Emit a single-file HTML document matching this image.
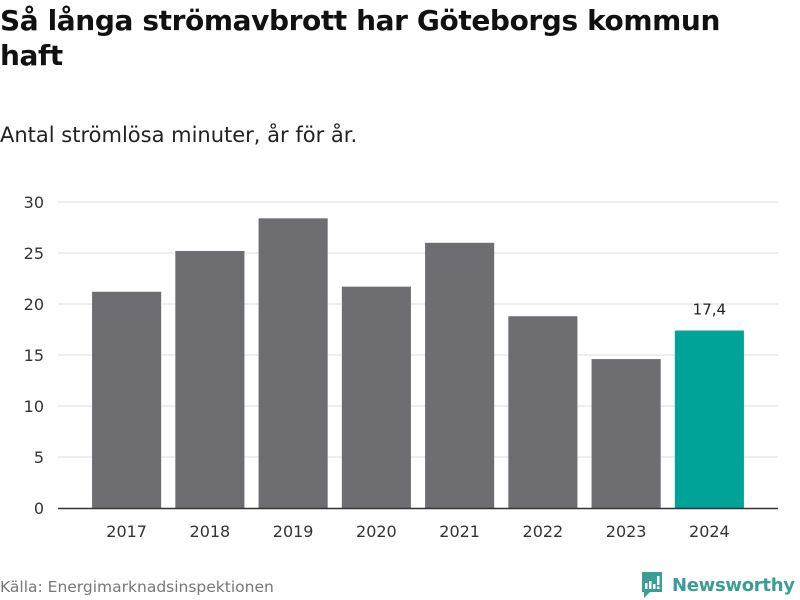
<!DOCTYPE html>
<html><head><meta charset="utf-8">
<style>
body{margin:0;width:800px;height:600px;background:#fff;font-family:"DejaVu Sans","Liberation Sans",sans-serif;overflow:hidden}
h1{position:absolute;left:0;top:3px;margin:0;font-size:28px;line-height:35px;font-weight:bold;color:#111;width:790px;letter-spacing:-0.4px}
.sub{position:absolute;left:0;top:123px;font-size:21px;color:#222}
.src{position:absolute;left:0;top:578px;font-size:15.5px;color:#777}
</style></head><body>
<h1>Så långa strömavbrott har Göteborgs kommun haft</h1>
<div class="sub">Antal strömlösa minuter, år för år.</div>
<svg id="chart" width="800" height="600" style="position:absolute;left:0;top:0"></svg>
<div class="src">Källa: Energimarknadsinspektionen</div>
<div style="position:absolute;left:640px;top:570px;display:flex;align-items:center">
<svg width="24" height="30" viewBox="0 0 24 30"><path d="M2 2h20v20h-12l-6 6v-6h-2z" fill="#3a9e94"/><rect x="5" y="13" width="2.5" height="6" fill="#fff"/><rect x="9" y="11" width="2.5" height="8" fill="#fff"/><rect x="13" y="14" width="2.5" height="5" fill="#fff"/><rect x="17" y="6" width="2.5" height="9" fill="#fff"/><rect x="17" y="16.5" width="2.5" height="2.5" fill="#fff"/></svg>
<span style="font-size:18px;font-weight:bold;color:#3a9e94;margin-left:8px;letter-spacing:-0.3px">Newsworthy</span></div>
<script>
const categories=["2017","2018","2019","2020","2021","2022","2023","2024"];
const values=[21.2,25.2,28.4,21.7,26.0,18.8,14.6,17.4];
const labels=["","","","","","","","17,4"];
const yTicks=[0,5,10,15,20,25,30];
const svg=document.getElementById('chart');
const NS="http://www.w3.org/2000/svg";
const y0=508,y1=202,yMax=30,xL=85,xR=751;
const y=v=>y0-(v/yMax)*(y0-y1);
const step=(xR-xL)/categories.length;
const bw=step*0.83;
const x=i=>xL+step*i+(step-bw)/2;
function mk(t,a){const e=document.createElementNS(NS,t);for(const k in a)e.setAttribute(k,a[k]);svg.appendChild(e);return e;}
yTicks.forEach(t=>{
 if(t>0){const g=mk('line',{x1:58,x2:778,y1:y(t),y2:y(t),stroke:'#ddd','stroke-width':1});
 
 }
 const l=mk('text',{x:44,y:y(t)+6,'text-anchor':'end','font-size':16,fill:'#333'});l.textContent=t;
 
 
});
values.forEach((v,i)=>{
 const r=mk('rect',{x:x(i),y:y(v),width:bw,height:y0-y(v),fill:i===values.length-1?'#00a398':'#6e6d72'});
 
 
 const t=mk('text',{x:x(i)+bw/2,y:537,'text-anchor':'middle','font-size':16,fill:'#333'});t.textContent=categories[i];
 
 
 if(labels[i]){const vl=mk('text',{x:x(i)+bw/2,y:y(v)-16,'text-anchor':'middle','font-size':15,fill:'#222'});vl.textContent=labels[i];
 
 }
});
const ax=mk('line',{x1:58,x2:778,y1:y0+0.5,y2:y0+0.5,stroke:'#333','stroke-width':1.5});


</script>
</body></html>
